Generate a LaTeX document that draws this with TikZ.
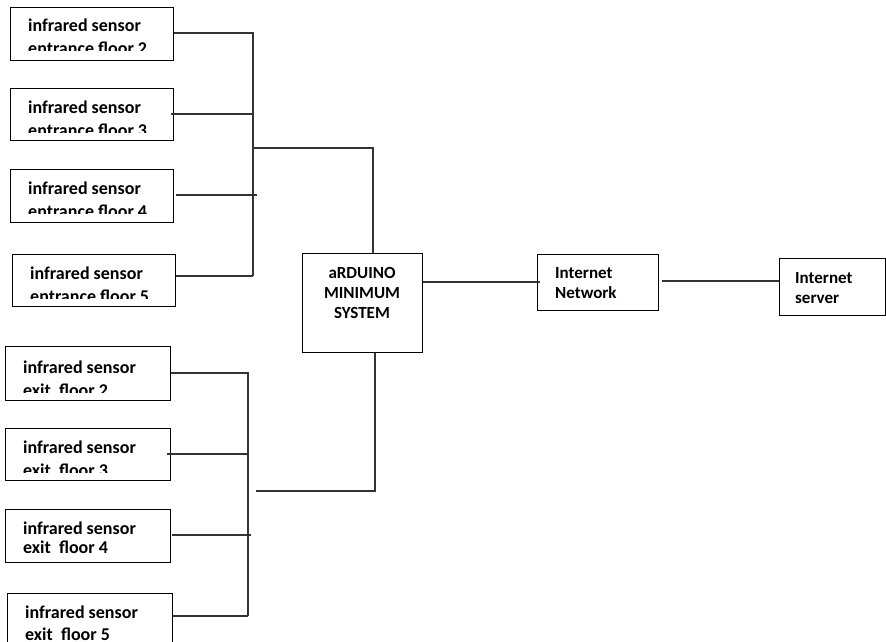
\documentclass[tikz,border=0pt]{standalone}
\usepackage{fontspec}
\setmainfont{Carlito}
\begin{document}
\begin{tikzpicture}[x=1pt,y=-1pt,
  box/.style={draw=black,line width=1.3pt,rectangle,inner sep=0pt,anchor=north west},
  wire/.style={draw=black!80,line width=1.3pt},
  lbl/.style={anchor=base west,inner sep=0pt,font=\fontsize{18}{23}\selectfont\bfseries,align=left},
  mlbl/.style={anchor=base west,inner sep=0pt,font=\fontsize{17}{20}\selectfont\bfseries,align=left},
  clbl/.style={anchor=base,inner sep=0pt,font=\fontsize{17}{20}\selectfont\bfseries,align=center}]
\useasboundingbox (0,0) rectangle (886,642);

% entrance sensors (base anchor = baseline of last line)
\node[box,minimum width=163pt,minimum height=53pt] (en2) at (10,7) {};
\node[box,minimum width=163pt,minimum height=52pt] (en3) at (10,88) {};
\node[box,minimum width=163pt,minimum height=53pt] (en4) at (10,169) {};
\node[box,minimum width=163pt,minimum height=52pt] (en5) at (12,254) {};
\begin{scope}\clip (10,7) rectangle (173,51);
\node[lbl] (en2t) at (28,55) {infrared sensor\\entrance floor 2};\end{scope}
\begin{scope}\clip (10,88) rectangle (173,132);
\node[lbl] (en3t) at (28,136) {infrared sensor\\entrance floor 3};\end{scope}
\begin{scope}\clip (10,169) rectangle (173,213);
\node[lbl] (en4t) at (28,217) {infrared sensor\\entrance floor 4};\end{scope}
\begin{scope}\clip (12,254) rectangle (175,298);
\node[lbl] (en5t) at (30,302) {infrared sensor\\entrance floor 5};\end{scope}

% exit sensors
\node[box,minimum width=165pt,minimum height=54pt] (ex2) at (5,346) {};
\node[box,minimum width=165pt,minimum height=52pt] (ex3) at (5,428) {};
\node[box,minimum width=165pt,minimum height=53pt] (ex4) at (5,509) {};
\node[box,minimum width=165pt,minimum height=60pt] (ex5) at (7,593) {};
\begin{scope}\clip (5,346) rectangle (170,392);
\node[lbl] (ex2t) at (23,396) {infrared sensor\\exit\ \ floor 2};\end{scope}
\begin{scope}\clip (5,428) rectangle (170,472);
\node[lbl] (ex3t) at (23,476) {infrared sensor\\exit\ \ floor 3};\end{scope}
\node[lbl,font=\fontsize{18}{19}\selectfont\bfseries] (ex4t) at (23,553) {infrared sensor\\exit\ \ floor 4};
\node[lbl,font=\fontsize{18}{22}\selectfont\bfseries] (ex5t) at (25,640) {infrared sensor\\exit\ \ floor 5};

% main boxes
\node[box,minimum width=120pt,minimum height=99pt] (ard) at (302,253) {};
\node[clbl] (ardt) at (362,318) {aRDUINO\\MINIMUM\\SYSTEM};
\node[box,minimum width=121pt,minimum height=56pt] (net) at (537,254) {};
\node[mlbl] (nett) at (555,298) {Internet\\Network};
\node[box,minimum width=106pt,minimum height=57pt] (srv) at (779,258) {};
\node[mlbl] (srvt) at (795,303) {Internet\\server};

% entrance bus
\coordinate (eb1) at (253,33);
\coordinate (eb4) at (253,276);
\coordinate (ej) at (253,148);
\coordinate (ea) at (373,148);
\draw[wire] (en2.east |- eb1) -- (eb1) -- (eb4);
\draw[wire] (171,114) coordinate (e3s) -- (253,114) coordinate (e3e);
\draw[wire] (176,195) coordinate (e4s) -- (257,195) coordinate (e4e);
\draw[wire] (en5.east |- eb4) -- (eb4);
\draw[wire] (ej) -- (ea) -- (ard.north -| ea);

% exit bus
\coordinate (xb1) at (248,373);
\coordinate (xb4) at (248,616);
\draw[wire] (ex2.east |- xb1) -- (xb1) -- (xb4);
\draw[wire] (167,454) coordinate (x3s) -- (248,454) coordinate (x3e);
\draw[wire] (172,535) coordinate (x4s) -- (251,535) coordinate (x4e);
\draw[wire] (ex5.east |- xb4) -- (xb4);
\coordinate (xj) at (256,491);
\coordinate (xa) at (375,491);
\draw[wire] (xj) -- (xa) -- (ard.south -| xa);

% network chain
\draw[wire] (ard.east |- 0,282) coordinate (a1) -- (540,282) coordinate (n1);
\draw[wire] (662,281) coordinate (n2) -- (srv.west |- n2);
\end{tikzpicture}
\end{document}
